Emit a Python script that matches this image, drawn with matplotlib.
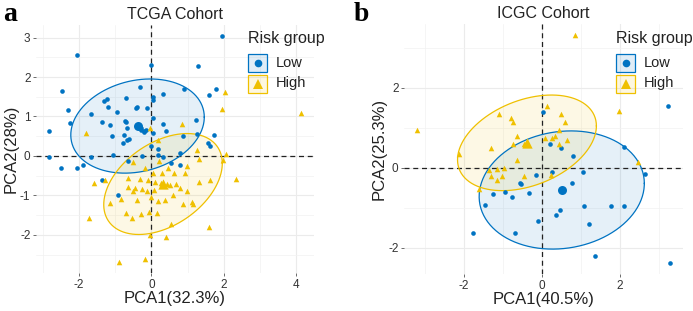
import matplotlib
matplotlib.use('Agg')
import matplotlib.pyplot as plt
from matplotlib.patches import Rectangle
from matplotlib.lines import Line2D
from matplotlib.ticker import MultipleLocator
import numpy as np

BLUE = '#0073C2'
YELLOW = '#EFC000'

# TCGA cohort, PCA coordinates
tcga_low_x = [1.96, -2.05, -0.02, 1.29, -2.48, -0.32, -0.71, 0.05, 0.05, 0.32,
              0.90, 1.58, 1.77, -1.24, -1.31, -1.20, -2.30, -1.66, -0.44, -0.39,
              -0.13, -0.95, -2.25, -1.36, -1.15, -0.74, -0.71, 0.05, 0.32, 1.22,
              -2.83, -0.67, -0.34, -0.28, -0.22, -0.14, -1.10, -0.76, -0.62, -0.78,
              -0.67, 0.05, 0.40, 0.86, 1.27, 1.72, 1.56, 1.63, 0.78, -2.84,
              -1.66, -1.06, -0.26, 0.17, 0.32, -2.51, -2.07, -1.89, -1.36, -0.92,
              0.53, 0.78, -0.66, 0.18, 0.00, -0.30, -0.20]
tcga_low_y = [3.04, 2.55, 2.30, 2.28, 1.65, 1.74, 1.47, 1.49, 1.42, 1.56,
              1.69, 1.54, 1.69, 1.45, 1.39, 1.25, 1.16, 1.06, 1.21, 1.23,
              1.21, 1.11, 0.84, 0.86, 0.79, 0.89, 0.85, 0.95, 0.81, 0.91,
              0.64, 0.72, 0.74, 0.66, 0.60, 0.65, 0.51, 0.53, 0.42, 0.34,
              0.41, 0.57, 0.62, 0.51, 0.56, 0.53, 0.34, 0.24, 0.07, -0.03,
              -0.03, 0.03, 0.01, 0.03, -0.04, -0.30, -0.31, -0.24, -0.61, -1.00,
              -0.19, -0.24, -0.14, 0.17, 0.24, 0.70, 0.62]
tcga_high_x = [4.14, 2.04, 1.96, 0.85, -1.81, -0.03, 0.17, 1.27, 2.05, 1.97,
               2.33, -0.51, -0.17, -1.29, -1.59, -0.66, -0.32, -0.10, 0.10, 0.05,
               0.30, 0.63, 0.92, 0.99, 1.32, 1.63, 1.32, -0.65, -0.46, -0.25,
               0.07, 0.78, 0.97, 0.69, 0.51, -1.15, -0.83, -0.41, 0.00, 0.18,
               0.37, 0.86, 1.13, 1.15, 0.60, -0.69, -0.55, -0.28, -0.06, 0.14,
               0.55, -1.73, 1.59, -0.05, 0.40, -0.90, -0.18, 0.26, 0.34, 0.42,
               -0.11, -0.50, 0.22, 0.45]
tcga_high_y = [1.10, 1.61, 1.18, 0.81, 0.57, 0.70, 0.41, 0.14, 0.05, -0.10,
               -0.58, -0.16, -0.31, -0.61, -0.69, -0.55, -0.58, -0.61, -0.65, -0.44,
               -0.44, -0.44, -0.44, -0.25, -0.08, -0.61, -0.65, -0.80, -0.82, -0.84,
               -0.86, -0.82, -0.89, -0.71, -0.73, -1.20, -1.10, -1.11, -1.03, -1.14,
               -1.13, -1.22, -1.16, -1.22, -0.99, -1.45, -1.58, -1.48, -1.43, -1.45,
               -1.72, -1.58, -1.81, -2.00, -2.06, -2.68, -2.62, -0.68, -0.74, -0.70,
               -0.90, -0.90, -0.12, -0.30]

# ICGC cohort
icgc_low_x = [3.23, 3.29, 0.02, 0.22, 0.50, 0.79, 0.27, -0.15, 1.06, 2.10,
              2.65, 0.77, -0.56, -0.53, -0.94, -1.26, -0.77, -0.34, -1.45, 0.47,
              0.36, 1.08, 1.77, 2.10, -0.09, 1.21, -1.76, -0.68, 1.37]
icgc_low_y = [1.54, -2.38, 1.38, 0.60, 0.49, 0.29, -0.10, -0.19, -0.12, 0.51,
              -0.16, -0.38, -0.38, -0.42, -0.61, -0.65, -0.73, -0.63, -0.93, -1.05,
              -1.19, -0.97, -0.97, -0.97, -1.33, -1.42, -1.64, -1.64, -2.21]
icgc_high_x = [0.85, -3.20, 0.12, 0.49, 0.58, -1.09, -0.79, -0.74, 0.43, 1.97,
               -0.63, 0.34, 0.27, 0.09, -0.45, -0.75, 0.64, 0.43, -1.30, -2.12,
               -0.63, -0.97, -1.15, -1.35, 2.46, 0.23, -1.31, -1.03, -0.46, -1.15,
               -1.62, -0.40]
icgc_high_y = [3.31, 0.93, 1.53, 1.33, 1.14, 1.35, 1.25, 1.14, 0.93, 1.41,
               0.78, 0.78, 0.73, 0.73, 0.58, 0.58, 0.68, 0.60, 0.49, 0.35,
               0.18, -0.01, -0.04, -0.05, 0.13, -0.18, -0.21, -0.21, -0.21, -0.32,
               -0.54, 0.62]

panels = [
    dict(letter='a', title='TCGA Cohort', xlabel='PCA1(32.3%)', ylabel='PCA2(28%)',
         low=(tcga_low_x, tcga_low_y), high=(tcga_high_x, tcga_high_y),
         xlim=(-3.19, 4.49), ylim=(-2.97, 3.33), xmaj=2, ymaj=1,
         rect=[0.052, 0.122, 0.401, 0.799]),
    dict(letter='b', title='ICGC Cohort', xlabel='PCA1(40.5%)', ylabel='PCA2(25.3%)',
         low=(icgc_low_x, icgc_low_y), high=(icgc_high_x, icgc_high_y),
         xlim=(-3.53, 3.62), ylim=(-2.66, 3.59), xmaj=2, ymaj=2,
         rect=[0.583, 0.119, 0.403, 0.804]),
]

LEVEL = 0.7

plt.rcParams['font.family'] = ['Liberation Sans', 'DejaVu Sans']
plt.rcParams['axes.unicode_minus'] = False


def draw_ellipse(ax, x, y, color):
    # normal-theory ellipse, like stat_ellipse(type = "norm")
    X = np.column_stack([x, y])
    n = len(X)
    loc = X.mean(axis=0)
    cov = np.cov(X.T)
    dfd = n - 1
    qf = dfd / 2 * ((1 - LEVEL) ** (-2 / dfd) - 1)
    radius = np.sqrt(2 * qf)
    t = np.linspace(0, 2 * np.pi, 200)
    circle = np.column_stack([np.cos(t), np.sin(t)])
    pts = loc + radius * circle @ np.linalg.cholesky(cov).T
    ax.fill(pts[:, 0], pts[:, 1], color=color, alpha=0.1, lw=0, zorder=1)
    ax.plot(pts[:, 0], pts[:, 1], color=color, lw=0.9, zorder=4)


fig = plt.figure(figsize=(6.93, 3.11), dpi=100)

for p in panels:
    ax = fig.add_axes(p['rect'])
    ax.set_xlim(*p['xlim'])
    ax.set_ylim(*p['ylim'])
    ax.xaxis.set_major_locator(MultipleLocator(p['xmaj']))
    ax.xaxis.set_minor_locator(MultipleLocator(p['xmaj'] / 2))
    ax.yaxis.set_major_locator(MultipleLocator(p['ymaj']))
    ax.yaxis.set_minor_locator(MultipleLocator(p['ymaj'] / 2))
    ax.grid(which='major', color='#EBEBEB', lw=0.8, zorder=0)
    ax.grid(which='minor', color='#F2F2F2', lw=0.5, zorder=0)
    ax.set_axisbelow(True)
    for s in ax.spines.values():
        s.set_visible(False)
    ax.tick_params(which='major', length=2.5, width=0.6, color='#555555',
                   labelsize=8.5, labelcolor='#333333', pad=1.5)
    ax.tick_params(which='minor', length=0)

    ax.axhline(0, color='#222222', lw=0.9, ls=(0, (4, 3)), zorder=3)
    ax.axvline(0, color='#222222', lw=0.9, ls=(0, (4, 3)), zorder=3)

    lx, ly = p['low']
    hx, hy = p['high']
    draw_ellipse(ax, lx, ly, BLUE)
    draw_ellipse(ax, hx, hy, YELLOW)
    ax.scatter(lx, ly, s=11, marker='o', color=BLUE, lw=0, zorder=5)
    ax.scatter(hx, hy, s=16, marker='^', color=YELLOW, lw=0, zorder=5)
    ax.scatter([np.mean(lx)], [np.mean(ly)], s=42, marker='o', color=BLUE, lw=0, zorder=6)
    ax.scatter([np.mean(hx)], [np.mean(hy)], s=55, marker='^', color=YELLOW, lw=0, zorder=6)

    ax.set_xlabel(p['xlabel'], fontsize=12, color='#222222', labelpad=0)
    ax.set_ylabel(p['ylabel'], fontsize=12, color='#222222', labelpad=1)
    ax.set_title(p['title'], fontsize=11.5, color='#222222', pad=4)

# panel letters
fig.text(0.004, 0.995, 'a', fontsize=20, fontweight='bold', va='top',
         family=['Liberation Serif', 'DejaVu Serif'])
fig.text(0.510, 0.995, 'b', fontsize=20, fontweight='bold', va='top',
         family=['Liberation Serif', 'DejaVu Serif'])

# legends (drawn by hand, ggplot style keys)
W, H = 693.0, 311.0
for left in (248, 616):
    fig.text(left / W, 1 - 38 / H, 'Risk group', fontsize=11.5, va='center',
             color='#222222')
    for i, (lab, col, mk, ms) in enumerate([('Low', BLUE, 'o', 5.5), ('High', YELLOW, '^', 6.5)]):
        top = 54 + i * 20.5
        fig.add_artist(Rectangle((left / W, 1 - (top + 18) / H), 19 / W, 18 / H,
                                 transform=fig.transFigure, facecolor=col,
                                 alpha=0.12, edgecolor='none'))
        fig.add_artist(Rectangle((left / W, 1 - (top + 18) / H), 19 / W, 18 / H,
                                 transform=fig.transFigure, facecolor='none',
                                 edgecolor=col, lw=0.9))
        fig.add_artist(Line2D([(left + 9.5) / W], [1 - (top + 9) / H], marker=mk,
                              markersize=ms, color=col, mew=0,
                              transform=fig.transFigure))
        fig.text((left + 28) / W, 1 - (top + 9) / H, lab, fontsize=10.5,
                 va='center', color='#222222')

fig.savefig('out.png', dpi=100)
